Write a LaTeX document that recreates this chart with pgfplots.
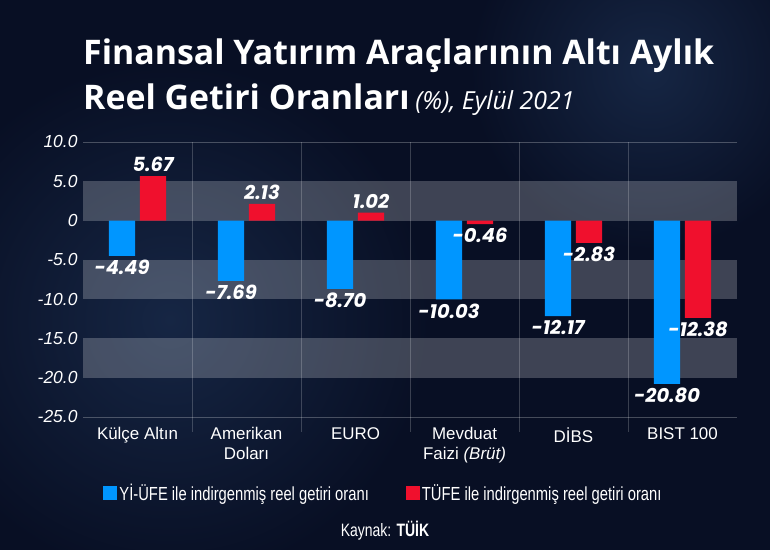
\documentclass[border=0pt]{standalone}
\usepackage{fontspec}
\usepackage{pgfplots}
\pgfplotsset{compat=1.18}
\setmainfont{Liberation Sans}
\newfontfamily\titlefont{Open Sans}
\newfontfamily\valfont{Poppins}
\newfontfamily\condfont[FakeStretch=0.78]{Liberation Sans}
\definecolor{bg}{RGB}{8,15,36}
\definecolor{glow}{RGB}{22,38,68}
\definecolor{bblue}{RGB}{0,150,255}
\definecolor{bred}{RGB}{240,16,45}
\begin{document}
\begin{tikzpicture}[x=1bp,y=1bp]
\useasboundingbox (0,0) rectangle (770,550);
\fill[bg] (0,0) rectangle (770,550);
\begin{scope}
\clip (0,0) rectangle (770,550);
\shade[inner color=glow, outer color=bg] (170,230) circle (260);
\shade[inner color=glow, outer color=bg] (650,480) circle (180);
\end{scope}
\node[anchor=base west,text=white,inner sep=0] at (83,485) {\titlefont\fontsize{34}{40}\selectfont\bfseries Finansal Yatırım Araçlarının Altı Aylık};
\node[anchor=base west,text=white,inner sep=0] at (83,440) {\titlefont\fontsize{34}{40}\selectfont\bfseries Reel Getiri Oranları\,{\mdseries\itshape\fontsize{25}{30}\selectfont (\%), Eylül 2021}};
\begin{axis}[
  at={(83bp,133bp)}, anchor=south west,
  scale only axis, width=654bp, height=275bp,
  xmin=-0.5, xmax=5.5, ymin=-25, ymax=10,
  axis line style={draw=none},
  major tick length=0pt,
  clip=false,
  ytick={-25,-20,-15,-10,-5,0,5,10},
  yticklabels={-25.0,-20.0,-15.0,-10.0,-5.0,0,5.0,10.0},
  yticklabel style={font=\fontsize{17.5}{20}\selectfont\itshape, text=white, xshift=-2bp},
  xtick={0,1,2,3,4,5},
  xticklabels={Külçe Altın, Amerikan\\Doları, EURO, Mevduat\\Faizi \textit{(Brüt)}, DİBS, BIST 100},
  xticklabel style={font=\fontsize{17}{20}\selectfont, text=white, align=center, anchor=north, yshift=-7bp},
  ybar, bar width=0.24,
  point meta=y,
  nodes near coords,
  nodes near coords align=vertical,
  /pgf/number format/.cd, fixed, fixed zerofill, precision=2, assume math mode=true, /pgfplots/.cd,
  every node near coord/.append style={font=\valfont\fontsize{19.5}{22}\selectfont\bfseries\itshape, text=white, inner sep=4bp},
  legend style={at={(0.031,-0.276)}, anchor=west, draw=none, fill=none, text=white, legend columns=2, inner sep=0pt,
    font=\condfont\fontsize{19}{22}\selectfont,
    /tikz/every even column/.append style={column sep=35bp}},
  legend image code/.code={\fill[#1] (0bp,-7bp) rectangle (14bp,7bp);},
]
\fill[white, opacity=0.22] (axis cs:-0.5,0) rectangle (axis cs:5.5,5);
\fill[white, opacity=0.22] (axis cs:-0.5,-5) rectangle (axis cs:5.5,-10);
\fill[white, opacity=0.22] (axis cs:-0.5,-15) rectangle (axis cs:5.5,-20);
\draw[white, opacity=0.25, line width=0.8bp] (axis cs:-0.5,10) -- (axis cs:5.5,10);
\draw[white, opacity=0.25, line width=0.8bp] (axis cs:-0.5,-25) -- (axis cs:5.5,-25);
\draw[white, opacity=0.2, line width=0.8bp] (axis cs:0.5,10) -- ([yshift=-15bp]axis cs:0.5,-25);
\draw[white, opacity=0.2, line width=0.8bp] (axis cs:1.5,10) -- ([yshift=-15bp]axis cs:1.5,-25);
\draw[white, opacity=0.2, line width=0.8bp] (axis cs:2.5,10) -- ([yshift=-15bp]axis cs:2.5,-25);
\draw[white, opacity=0.2, line width=0.8bp] (axis cs:3.5,10) -- ([yshift=-15bp]axis cs:3.5,-25);
\draw[white, opacity=0.2, line width=0.8bp] (axis cs:4.5,10) -- ([yshift=-15bp]axis cs:4.5,-25);
\addplot[fill=bblue, draw=none, bar shift=-0.142] coordinates {
  (0,-4.49) (1,-7.69) (2,-8.70) (3,-10.03) (4,-12.17) (5,-20.80)};
\addlegendentry{Yİ-ÜFE ile indirgenmiş reel getiri oranı}
\addplot[fill=bred, draw=none, bar shift=0.142] coordinates {
  (0,5.67) (1,2.13) (2,1.02) (3,-0.46) (4,-2.83) (5,-12.38)};
\addlegendentry{TÜFE ile indirgenmiş reel getiri oranı}
\end{axis}
\node[anchor=base, text=white, inner sep=0] at (385,13) {\condfont\fontsize{18}{20}\selectfont Kaynak: \textbf{TÜİK}};
\end{tikzpicture}
\end{document}
